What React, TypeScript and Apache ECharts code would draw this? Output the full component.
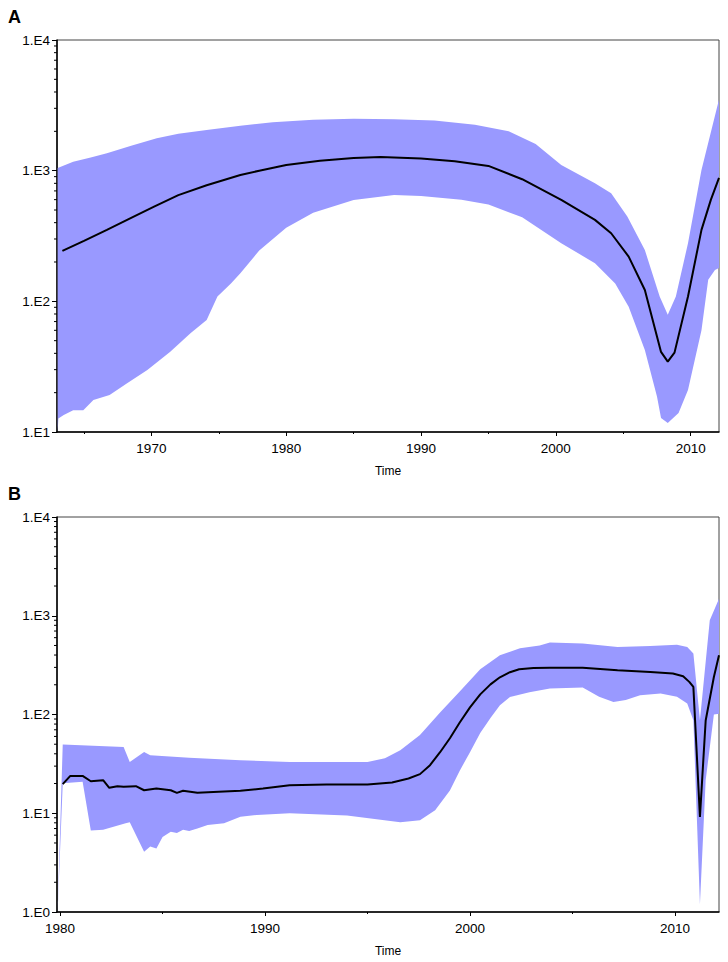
import React, { useEffect, useRef } from "react";
import * as echarts from "echarts";

// ---------- Panel A data ----------
const meanA: [number, number][] = [
  [1963.4, 243], [1965, 290], [1966.7, 352], [1968.5, 435], [1970.2, 531], [1972, 650],
  [1974.1, 774], [1976.6, 927], [1978, 1000], [1980, 1107], [1982.5, 1190], [1985, 1250],
  [1987, 1274], [1990, 1240], [1992.5, 1180], [1995, 1087], [1997.5, 860], [2000.4, 597],
  [2002.9, 420], [2004.1, 332], [2005.4, 220], [2006.6, 122], [2007.8, 41], [2008.3, 34.6],
  [2008.8, 40.5], [2009.8, 109], [2010.8, 352], [2011.5, 600], [2012.1, 880],
];
const upperA: [number, number][] = [
  [1963.05, 1050], [1964.2, 1172], [1965.5, 1260], [1966.7, 1360], [1968.5, 1550], [1970.4, 1770],
  [1972, 1920], [1974.1, 2050], [1976.6, 2210], [1979, 2350], [1982, 2450], [1985, 2500],
  [1988, 2480], [1991, 2420], [1994, 2250], [1996.5, 2000], [1998.5, 1600], [2000.4, 1107],
  [2002.9, 800], [2004.1, 671], [2005.3, 445], [2006.6, 247], [2007.7, 109], [2008.3, 79],
  [2008.9, 109], [2009.8, 278], [2010.8, 1010], [2012.1, 3500],
];
const lowerA: [number, number][] = [
  [1963.05, 10], [1963.1, 12.7], [1963.5, 13.5], [1964.2, 14.7], [1964.95, 14.7], [1965.7, 17.6],
  [1966.9, 19.2], [1968.2, 23.6], [1969.7, 29.8], [1971.4, 41.2], [1972.9, 57], [1974.1, 72],
  [1974.9, 109], [1975.9, 137], [1976.6, 164], [1978, 245], [1980, 365], [1982, 476],
  [1985, 597], [1988, 650], [1990, 640], [1993, 600], [1995, 550], [1997.5, 440],
  [2000.4, 278], [2002.9, 196], [2004.4, 137], [2005.4, 91], [2006.6, 42.5], [2007.5, 18.7],
  [2007.8, 12.8], [2008.3, 11.7], [2009.1, 14], [2009.8, 21], [2010.8, 60], [2011.3, 146],
  [2011.8, 174], [2012.1, 180],
];

// ---------- Panel B data ----------
const meanB: [number, number][] = [
  [1980.13, 19.7], [1980.5, 23.9], [1981.1, 23.9], [1981.5, 21.1], [1982.1, 21.6], [1982.4, 18.1],
  [1982.8, 18.8], [1983.1, 18.6], [1983.7, 18.8], [1984.1, 17.1], [1984.7, 17.8], [1985.4, 17.1],
  [1985.7, 16.1], [1986.0, 16.9], [1986.7, 16.1], [1988.0, 16.6], [1988.8, 16.9], [1989.9, 17.8],
  [1991.2, 19.2], [1993, 19.6], [1995, 19.6], [1996.2, 20.5], [1997, 22.5], [1997.56, 24.9],
  [1998.05, 30.7], [1998.54, 41.5], [1999.02, 57.5], [1999.5, 83], [2000, 118], [2000.5, 160],
  [2001, 202], [2001.46, 238], [2001.95, 268], [2002.4, 287], [2003.1, 295], [2003.9, 297],
  [2005.5, 297], [2007.2, 281], [2008.8, 270], [2009.9, 260], [2010.4, 244], [2010.7, 214],
  [2010.9, 190], [2011.22, 9.2], [2011.5, 87], [2011.9, 240], [2012.15, 398],
];
const upperB: [number, number][] = [
  [1979.88, 1.0], [1980.13, 49.7], [1983.1, 47], [1983.4, 33], [1984.1, 41.8], [1984.4, 38.7],
  [1986.3, 36.4], [1988.8, 34.5], [1991.2, 33], [1995, 33], [1995.85, 36.1], [1996.6, 43.5],
  [1997.56, 62], [1998.54, 105], [1999.5, 171], [2000.5, 287], [2001.46, 398], [2002.44, 468],
  [2003.4, 501], [2003.9, 536], [2005.5, 523], [2007.2, 483], [2008.8, 494], [2010.1, 510],
  [2010.6, 483], [2010.9, 414], [2011.22, 87.5], [2011.7, 900], [2012.15, 1490],
];
const lowerB: [number, number][] = [
  [1979.88, 1.0], [1980.13, 20.1], [1981.1, 20.8], [1981.5, 6.7], [1982.1, 6.8], [1983.2, 7.9],
  [1983.4, 8.1], [1984.1, 4.07], [1984.4, 4.6], [1984.7, 4.4], [1985.0, 5.75], [1985.4, 6.5],
  [1985.7, 6.3], [1986.0, 6.8], [1986.3, 6.6], [1986.7, 7.0], [1987.2, 7.6], [1988.0, 7.9],
  [1988.8, 9.2], [1989.6, 9.6], [1991.2, 10], [1994, 9.5], [1996.6, 8.1], [1997.56, 8.5],
  [1998.3, 10.7], [1999.02, 17], [1999.5, 27], [2000, 41.5], [2000.5, 65], [2001, 92],
  [2001.46, 124], [2001.95, 150], [2002.9, 168], [2003.9, 183], [2005.5, 188], [2006.3, 151],
  [2007.0, 134], [2007.6, 140], [2008.3, 157], [2009.3, 163], [2010.1, 151], [2010.6, 129],
  [2010.9, 87.5], [2011.22, 1.2], [2011.5, 21.6], [2011.9, 100], [2012.15, 102],
];

// ---------- Axes / ticks ----------
const xRangeA = [1963, 2012.1];
const xRangeB = [1979.85, 2012.15];
const yRangeA = [10, 10000];
const yRangeB = [1, 10000];
const xMajorA = [1970, 1980, 1990, 2000, 2010];
const xMinorA = [1965, 1975, 1985, 1995, 2005];
const xMajorB = [1980, 1990, 2000, 2010];
const xMinorB = [1985, 1995, 2005];
const yMinorA = [20, 30, 40, 50, 60, 70, 80, 90, 200, 300, 400, 500, 600, 700, 800, 900, 2000, 3000, 4000, 5000, 6000, 7000, 8000, 9000];
const yMinorB = [2, 3, 4, 5, 6, 7, 8, 9, ...yMinorA];

const BAND = "#9999FF";
const FONT = "Liberation Sans, Arial, sans-serif";

function bandSeries(upper: number[][], lower: number[][], idx: number) {
  return {
    type: "custom",
    xAxisIndex: idx * 2,
    yAxisIndex: idx,
    silent: true,
    clip: true,
    z: 1,
    data: upper,
    renderItem: (params: any, api: any) => {
      if (params.dataIndex !== 0) return null;
      const pts = upper
        .map((p) => api.coord(p))
        .concat(lower.slice().reverse().map((p) => api.coord(p)));
      return { type: "polygon", shape: { points: pts }, style: { fill: BAND } };
    },
  };
}

function minorYTickSeries(ticks: number[], xMin: number, idx: number) {
  return {
    type: "custom",
    xAxisIndex: idx * 2,
    yAxisIndex: idx,
    silent: true,
    clip: false,
    z: 5,
    data: ticks.map((v) => [xMin, v]),
    renderItem: (_p: any, api: any) => {
      const p = api.coord([api.value(0), api.value(1)]);
      return {
        type: "line",
        shape: { x1: p[0] - 3, y1: p[1], x2: p[0], y2: p[1] },
        style: { stroke: "#000", lineWidth: 1 },
      };
    },
  };
}

function meanSeries(data: number[][], idx: number) {
  return {
    type: "line",
    xAxisIndex: idx * 2,
    yAxisIndex: idx,
    data,
    showSymbol: false,
    symbol: "none",
    silent: true,
    z: 3,
    lineStyle: { color: "#000", width: 2 },
  };
}

function xAxes(range: number[], major: number[], minor: number[], gridIndex: number) {
  return [
    {
      type: "value",
      gridIndex,
      position: "bottom",
      min: range[0],
      max: range[1],
      name: "Time",
      nameLocation: "middle",
      nameGap: 33,
      nameTextStyle: { fontFamily: FONT, fontSize: 12, color: "#000" },
      axisLine: { show: true, onZero: false, lineStyle: { color: "#000", width: 1.5 } },
      axisTick: { show: true, length: 4, customValues: major, lineStyle: { color: "#000", width: 1 } },
      axisLabel: {
        show: true,
        customValues: major,
        margin: 9,
        fontFamily: FONT,
        fontSize: 13.5,
        color: "#000",
        formatter: (v: number) => String(Math.round(v)),
      },
      splitLine: { show: false },
    },
    {
      type: "value",
      gridIndex,
      position: "bottom",
      min: range[0],
      max: range[1],
      axisLine: { show: false, onZero: false },
      axisTick: { show: true, length: 2, customValues: minor, lineStyle: { color: "#000", width: 1 } },
      axisLabel: { show: false },
      splitLine: { show: false },
    },
  ];
}

function yAxis(range: number[], gridIndex: number) {
  return {
    type: "log",
    logBase: 10,
    gridIndex,
    min: range[0],
    max: range[1],
    axisLine: { show: true, lineStyle: { color: "#000", width: 1.5 } },
    axisTick: { show: true, length: 5, lineStyle: { color: "#000", width: 1 } },
    axisLabel: {
      margin: 7,
      fontFamily: FONT,
      fontSize: 13.5,
      color: "#000",
      formatter: (v: number) => "1.E" + Math.round(Math.log10(v)),
    },
    minorTick: { show: false },
    splitLine: { show: false },
  };
}

export default function App() {
  const ref = useRef<HTMLDivElement>(null);
  useEffect(() => {
    document.body.style.margin = "0";
    if (!ref.current) return;
    const chart = echarts.init(ref.current, null, { renderer: "svg" });
    chart.setOption({
      animation: false,
      backgroundColor: "#fff",
      grid: [
        { left: 57, top: 40, width: 662, height: 392, show: true, borderColor: "#444", borderWidth: 1, backgroundColor: "transparent" },
        { left: 57, top: 517, width: 662, height: 395, show: true, borderColor: "#444", borderWidth: 1, backgroundColor: "transparent" },
      ],
      graphic: [
        { type: "text", left: 8, top: 8, style: { text: "A", font: "bold 18px " + FONT, fill: "#000" } },
        { type: "text", left: 8, top: 485, style: { text: "B", font: "bold 18px " + FONT, fill: "#000" } },
      ],
      xAxis: [...xAxes(xRangeA, xMajorA, xMinorA, 0), ...xAxes(xRangeB, xMajorB, xMinorB, 1)],
      yAxis: [yAxis(yRangeA, 0), yAxis(yRangeB, 1)],
      series: [
        bandSeries(upperA, lowerA, 0),
        meanSeries(meanA, 0),
        minorYTickSeries(yMinorA, xRangeA[0], 0),
        bandSeries(upperB, lowerB, 1),
        meanSeries(meanB, 1),
        minorYTickSeries(yMinorB, xRangeB[0], 1),
      ],
    });
    return () => chart.dispose();
  }, []);
  return <div ref={ref} style={{ width: 728, height: 962 }} />;
}
